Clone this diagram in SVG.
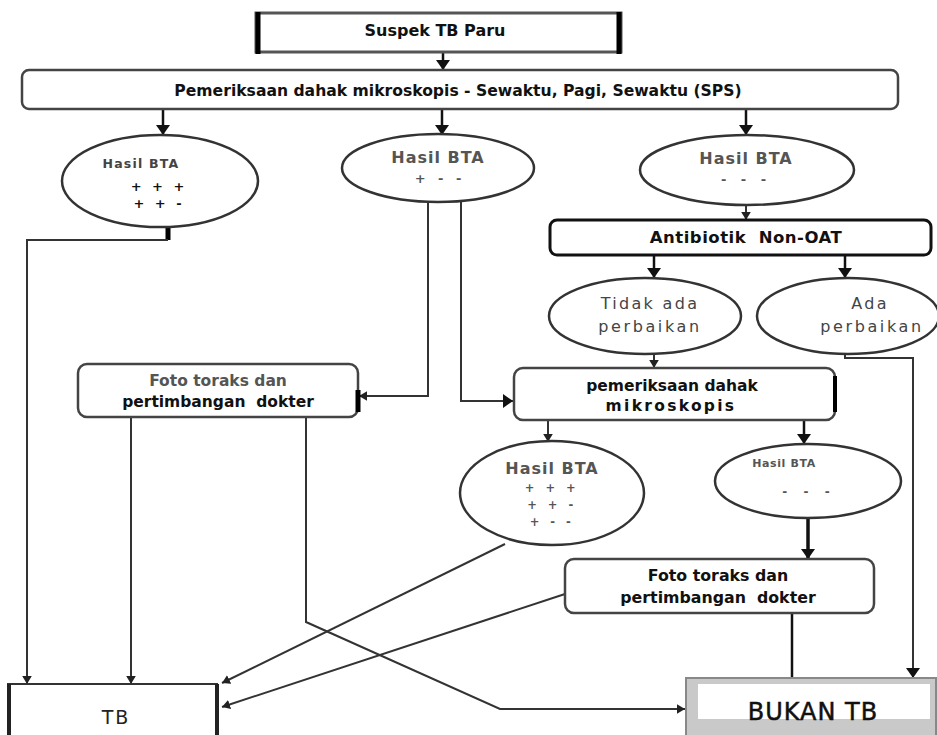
<svg xmlns="http://www.w3.org/2000/svg" width="937" height="735" viewBox="0 0 937 735">
<style>
.b{font-family:"DejaVu Sans","Liberation Sans",sans-serif;font-weight:bold;text-anchor:middle;fill:#111}
.g{fill:#555}
.r{font-family:"DejaVu Sans","Liberation Sans",sans-serif;text-anchor:middle;fill:#444}
.ell{fill:#fff;stroke:#333;stroke-width:2.5}
.box{fill:#fff;stroke:#444;stroke-width:2.5}
.ln{fill:none;stroke:#333;stroke-width:2}
.lt{fill:none;stroke:#111;stroke-width:2.5}
.blk{stroke:#000;stroke-width:5}
</style>
<defs>
<marker id="ah" viewBox="0 0 10 14" refX="10" refY="7" markerWidth="10" markerHeight="14" markerUnits="userSpaceOnUse" orient="auto"><path d="M0,0 L10,7 L0,14 z" fill="#111"/></marker>
<marker id="as" viewBox="0 0 10 12" refX="10" refY="6" markerWidth="8" markerHeight="10" markerUnits="userSpaceOnUse" orient="auto"><path d="M0,0 L10,6 L0,12 z" fill="#222"/></marker>
</defs>
<rect width="937" height="735" fill="#fff"/>

<g id="connectors">
<path class="lt" d="M443,52 V70" marker-end="url(#ah)"/>
<path class="lt" d="M163,109 V135" marker-end="url(#ah)"/>
<path class="lt" d="M442,109 V135" marker-end="url(#ah)"/>
<path class="lt" d="M746,109 V135" marker-end="url(#ah)"/>
<path d="M168,226 V240" stroke="#000" stroke-width="5" fill="none"/>
<path class="ln" d="M168,240 H27 V684" marker-end="url(#as)"/>
<path class="ln" d="M428,202 V396 H359" marker-end="url(#as)"/>
<path class="ln" d="M461,202 V401 H513" marker-end="url(#ah)"/>
<path class="ln" d="M746,205 V220" marker-end="url(#as)"/>
<path class="lt" d="M654,255 V278" marker-end="url(#ah)"/>
<path class="lt" d="M845,255 V278" marker-end="url(#ah)"/>
<path class="ln" d="M654,354 V368" marker-end="url(#as)"/>
<path class="ln" d="M845,352 V358 H913 V678" marker-end="url(#ah)"/>
<path class="ln" d="M548,421 V442" marker-end="url(#as)"/>
<path class="lt" d="M804,421 V444" marker-end="url(#ah)"/>
<path d="M808,518 V559" stroke="#111" stroke-width="3.5" fill="none" marker-end="url(#ah)"/>
<path class="ln" d="M131,417 V684" marker-end="url(#as)"/>
<path class="ln" d="M306,417 V622 L500,709 H685" marker-end="url(#as)"/>
<path class="ln" d="M505,544 L222,683" marker-end="url(#as)"/>
<path class="ln" d="M565,594 L222,707" marker-end="url(#as)"/>
<path class="lt" d="M792,613 V678"/>
</g>

<g id="suspek">
<rect x="256" y="13" width="365" height="39" fill="#fff" stroke="#555" stroke-width="3"/>
<path class="blk" d="M258,12 V54 M619,12 V54"/>
<text class="b" x="435" y="36" font-size="16">Suspek TB Paru</text>
</g>

<g id="pemeriksaan-sps">
<rect class="box" x="22" y="70" width="876" height="39" rx="7" stroke-width="3"/>
<text class="b" x="458" y="96" font-size="15.6">Pemeriksaan dahak mikroskopis - Sewaktu, Pagi, Sewaktu (SPS)</text>
</g>

<g id="hasil1">
<ellipse class="ell" cx="160" cy="181" rx="98" ry="46"/>
<text class="b" x="141" y="168" font-size="12.5" letter-spacing="1.2" style="fill:#444">Hasil BTA</text>
<text class="b" x="159" y="191" font-size="13" letter-spacing="3">+ + +</text>
<text class="b" x="159" y="208" font-size="13" letter-spacing="3">+ + -</text>
</g>

<g id="hasil2">
<ellipse class="ell" cx="438" cy="168" rx="96" ry="34"/>
<text class="b g" x="438" y="163" font-size="16" letter-spacing="1">Hasil BTA</text>
<text class="b g" x="440" y="183" font-size="13" letter-spacing="4">+ - -</text>
</g>

<g id="hasil3">
<ellipse class="ell" cx="747" cy="170" rx="107" ry="35"/>
<text class="b g" x="746" y="164" font-size="16" letter-spacing="1">Hasil BTA</text>
<text class="b g" x="746" y="184" font-size="13" letter-spacing="5">- - -</text>
</g>

<g id="antibiotik">
<rect x="550" y="220" width="381" height="35" rx="7" fill="#fff" stroke="#111" stroke-width="3"/>
<text class="b" x="746" y="243" font-size="16.5" letter-spacing="0.5" xml:space="preserve">Antibiotik  Non-OAT</text>
</g>

<g id="tidak-ada-perbaikan">
<ellipse class="ell" cx="645" cy="316" rx="96" ry="38"/>
<text class="r" x="650" y="309" font-size="16" letter-spacing="2.3">Tidak ada</text>
<text class="r" x="650" y="332" font-size="16" letter-spacing="2.6">perbaikan</text>
</g>

<g id="ada-perbaikan">
<ellipse class="ell" cx="848" cy="316" rx="91" ry="38"/>
<text class="r" x="870" y="309" font-size="16" letter-spacing="2.3">Ada</text>
<text class="r" x="872" y="332" font-size="16" letter-spacing="2.6">perbaikan</text>
</g>

<g id="foto-kiri">
<rect class="box" x="78" y="364" width="280" height="53" rx="9"/>
<path d="M358,390 V412" stroke="#000" stroke-width="5"/>
<text class="b g" x="218" y="386" font-size="15.5">Foto toraks dan</text>
<text class="b" x="218" y="407" font-size="15.5" xml:space="preserve">pertimbangan  dokter</text>
</g>

<g id="pemeriksaan-ulang">
<rect class="box" x="514" y="368" width="321" height="52" rx="9"/>
<path d="M835,376 V412" stroke="#000" stroke-width="4"/>
<text class="b" x="672" y="391" font-size="15.5">pemeriksaan dahak</text>
<text class="b" x="671" y="411" font-size="15.5" letter-spacing="2.3">mikroskopis</text>
</g>

<g id="hasil4">
<ellipse class="ell" cx="552" cy="493" rx="92" ry="52"/>
<text class="b g" x="552" y="474" font-size="16" letter-spacing="1">Hasil BTA</text>
<text class="b g" x="552" y="492" font-size="11.5" letter-spacing="3.5">+ + +</text>
<text class="b g" x="552" y="509" font-size="11.5" letter-spacing="3.5">+ + -</text>
<text class="b g" x="552" y="526" font-size="11.5" letter-spacing="3.5">+ - -</text>
</g>

<g id="hasil5">
<ellipse class="ell" cx="808" cy="481" rx="93" ry="37"/>
<text class="b g" x="784" y="467" font-size="11" letter-spacing="0.6">Hasil BTA</text>
<text class="b g" x="809" y="496" font-size="12" letter-spacing="6">- - -</text>
</g>

<g id="foto-kanan">
<rect class="box" x="565" y="559" width="309" height="54" rx="9"/>
<text class="b" x="718" y="581" font-size="15.8">Foto toraks dan</text>
<text class="b" x="718" y="603" font-size="15.8" xml:space="preserve">pertimbangan  dokter</text>
</g>

<g id="tb">
<rect x="8" y="684" width="209" height="60" fill="#fff" stroke="#333" stroke-width="2"/>
<path d="M9,684 V735 M217,684 V735" stroke="#222" stroke-width="4"/>
<text class="r" x="116" y="724" font-size="19" letter-spacing="2" style="fill:#222">TB</text>
</g>

<g id="bukan-tb">
<rect x="686" y="678" width="250" height="60" fill="#c9c9c9" stroke="#888" stroke-width="2"/>
<rect x="698" y="684" width="232" height="35" fill="#fff"/>
<text class="r" x="813" y="720" font-size="24" letter-spacing="1" style="fill:#111;stroke:#111;stroke-width:0.5">BUKAN TB</text>
</g>
</svg>
